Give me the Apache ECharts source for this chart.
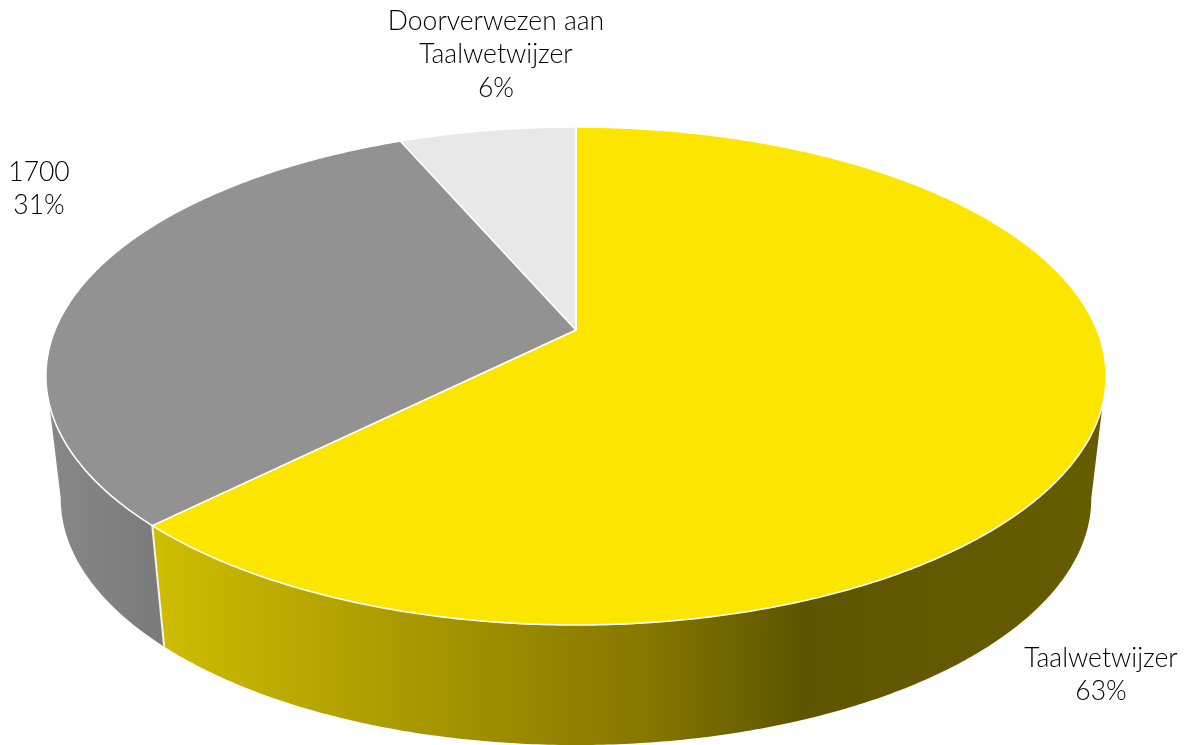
<!DOCTYPE html>
<html>
<head>
<meta charset="utf-8">
<style>html,body{margin:0;padding:0;background:#fff}#c{width:1186px;height:745px}</style>
<script src="https://cdn.jsdelivr.net/npm/echarts@6/dist/echarts.min.js"></script>
</head>
<body>
<div id="c"></div>
<script>
const categories = ['Taalwetwijzer', '1700', 'Doorverwezen aan\nTaalwetwijzer'];
const shares = [62.5, 31.05, 6.45];

const topColors = ['#FCE600', '#929292', '#E8E8E8'];
const wallStops = [
  [[0, '#CFBD00'], [0.52, '#857700'], [0.68, '#5E5500'], [1, '#665D00']],
  [[0, '#888888'], [1, '#7A7A7A']],
  [[0, '#BBBBBB'], [1, '#BBBBBB']]
];
const labelAnchors = [[1101, 675], [39, 189], [496, 54.5]];

// Perspective projection of the disc
const CX = 576, APEX_Y = 330, A = 521, B = 240.5, K = -0.1847;
const WALL_SX = 0.972, WALL_SY = 0.99, WALL_APEX = 453;
const T_RIGHT = 100.6, T_LEFT = 259.4;

function topPoint(deg) {
  const r = deg * Math.PI / 180, u = Math.sin(r), v = -Math.cos(r), d = 1 + K * v;
  return [CX + A * u / d, APEX_Y + B * v / d];
}
function bottomPoint(deg) {
  const p = topPoint(deg);
  return [CX + (p[0] - CX) * WALL_SX, WALL_APEX + (p[1] - APEX_Y) * WALL_SY];
}
function arc(fn, a, b) {
  const pts = [], n = Math.max(2, Math.ceil(Math.abs(b - a) * 2));
  for (let i = 0; i <= n; i++) pts.push(fn(a + (b - a) * i / n));
  return pts;
}

const total = shares.reduce((s, v) => s + v, 0);
let acc = 0;
const rows = shares.map((v, i) => {
  const start = acc / total * 360;
  acc += v;
  return [i, start, acc / total * 360];
});

function renderWall(params, api) {
  const i = api.value(0), a = Math.max(api.value(1), T_RIGHT), b = Math.min(api.value(2), T_LEFT);
  if (b <= a) return { type: 'group', children: [] };
  const pts = arc(topPoint, a, b).concat(arc(bottomPoint, a, b).reverse());
  const xs = pts.map(p => p[0]);
  const x0 = i === 0 ? 155 : Math.min(...xs), x1 = i === 0 ? 1105 : Math.max(...xs);
  const children = [{
    type: 'polygon', shape: { points: pts },
    style: {
      fill: new echarts.graphic.LinearGradient(x0, 0, x1, 0,
        wallStops[i].map(s => ({ offset: s[0], color: s[1] })), true),
      stroke: null
    }
  }];
  if (api.value(1) > T_RIGHT && api.value(1) < T_LEFT) {
    const p = topPoint(api.value(1)), q = bottomPoint(api.value(1));
    children.push({
      type: 'line', z2: 5,
      shape: { x1: p[0], y1: p[1], x2: q[0], y2: q[1] },
      style: { stroke: '#F2F2F2', lineWidth: 2 }
    });
  }
  return { type: 'group', children };
}
function renderTop(params, api) {
  const i = api.value(0), a = api.value(1), b = api.value(2);
  const pts = [[CX, APEX_Y]].concat(arc(topPoint, a, b));
  return {
    type: 'polygon', shape: { points: pts },
    style: { fill: topColors[i], stroke: '#FFFFFF', lineWidth: 1.6, lineJoin: 'round' }
  };
}
function renderLabel(params, api) {
  const i = api.value(0);
  return {
    type: 'text', x: labelAnchors[i][0], y: labelAnchors[i][1],
    style: {
      text: categories[i] + '\n' + Math.round(shares[i]) + '%',
      fill: '#000000', font: '300 26.5px Lato', lineHeight: 33.5,
      align: 'center', verticalAlign: 'middle'
    }
  };
}

const chart = echarts.init(document.getElementById('c'), null, { renderer: 'canvas' });
chart.setOption({
  animation: false,
  backgroundColor: '#ffffff',
  series: [
    { type: 'custom', coordinateSystem: 'none', renderItem: renderWall, data: rows, z: 1, silent: true },
    { type: 'custom', coordinateSystem: 'none', renderItem: renderTop, data: rows, z: 2, silent: true },
    { type: 'custom', coordinateSystem: 'none', renderItem: renderLabel, data: rows, z: 3, silent: true }
  ]
});
</script>
</body>
</html>
